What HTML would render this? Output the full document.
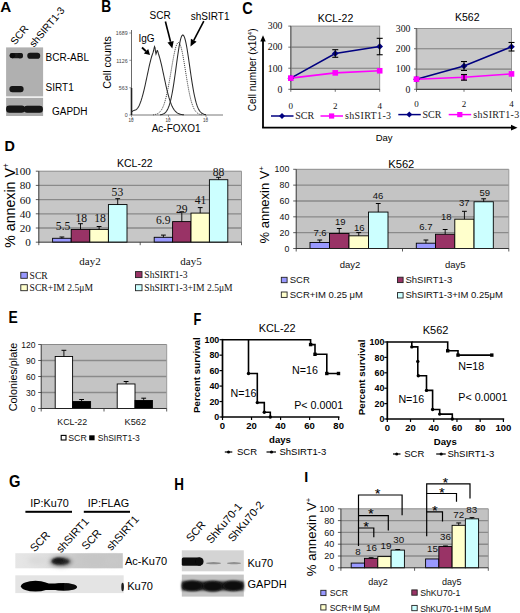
<!DOCTYPE html>
<html><head><meta charset="utf-8"><style>
html,body{margin:0;padding:0;background:#fff;}
svg{display:block;}
</style></head><body>
<svg width="520" height="613" viewBox="0 0 520 613">
<defs>
<filter id="b0" x="-50%" y="-50%" width="200%" height="200%"><feGaussianBlur stdDeviation="0.75"/></filter>
<filter id="b1" x="-50%" y="-50%" width="200%" height="200%"><feGaussianBlur stdDeviation="1.1"/></filter>
<filter id="b2" x="-50%" y="-50%" width="200%" height="200%"><feGaussianBlur stdDeviation="2"/></filter>
<linearGradient id="gG1" x1="0" y1="0" x2="1" y2="0"><stop offset="0" stop-color="#e6e6e6"/><stop offset="0.2" stop-color="#e2e2e2"/><stop offset="0.42" stop-color="#d8d8d8"/><stop offset="0.58" stop-color="#c8c8c8"/><stop offset="1" stop-color="#c6c6c6"/></linearGradient>
</defs>
<rect width="520" height="613" fill="#fff"/>
<text x="0.3" y="11.9" font-family='"Liberation Sans", sans-serif' font-size="15.2" font-weight="bold" text-anchor="start" fill="#000" >A</text>
<text transform="translate(15.2,45.6) rotate(-51)" font-family='"Liberation Sans", sans-serif' font-size="10.3" font-weight="normal" text-anchor="start" fill="#000">SCR</text>
<text transform="translate(34,47.8) rotate(-50)" font-family='"Liberation Sans", sans-serif' font-size="10.2" font-weight="normal" text-anchor="start" fill="#000">shSIRT1-3</text>
<rect x="6.1" y="47.4" width="37" height="49" fill="#b0b0b0" stroke="none" stroke-width="1" />
<rect x="6.1" y="97.8" width="37" height="18.2" fill="#ababab" stroke="none" stroke-width="1" />
<rect x="9.8" y="53.0" width="13" height="5.2" fill="#1a1a1a" stroke="none" stroke-width="1" rx="2.4" filter="url(#b0)"/>
<ellipse cx="12.4" cy="55.6" rx="2.8" ry="2.7" fill="#111" filter="url(#b0)"/>
<ellipse cx="20.4" cy="55.7" rx="2.6" ry="2.6" fill="#151515" filter="url(#b0)"/>
<rect x="27.3" y="52.8" width="12.9" height="5.9" fill="#141414" stroke="none" stroke-width="1" rx="2.8" filter="url(#b0)"/>
<rect x="9.4" y="86.0" width="14.2" height="6.3" fill="#141414" stroke="none" stroke-width="1" rx="3" filter="url(#b0)"/>
<rect x="6.1" y="105.6" width="18.7" height="7.2" fill="#121212" stroke="none" stroke-width="1" rx="3.2" filter="url(#b0)"/>
<rect x="23.8" y="105.7" width="19.1" height="7.0" fill="#121212" stroke="none" stroke-width="1" rx="3.2" filter="url(#b0)"/>
<text x="45.6" y="60.6" font-family='"Liberation Sans", sans-serif' font-size="10" font-weight="normal" text-anchor="start" fill="#000" >BCR-ABL</text>
<text x="45.6" y="90.6" font-family='"Liberation Sans", sans-serif' font-size="10" font-weight="normal" text-anchor="start" fill="#000" >SIRT1</text>
<text x="52" y="114.6" font-family='"Liberation Sans", sans-serif' font-size="10" font-weight="normal" text-anchor="start" fill="#000" >GAPDH</text>
<text x="101.3" y="11.6" font-family='"Liberation Sans", sans-serif' font-size="16.2" font-weight="bold" text-anchor="start" fill="#000" transform="translate(101.3,0) scale(0.85,1) translate(-101.3,0)">B</text>
<text x="149.5" y="18.8" font-family='"Liberation Sans", sans-serif' font-size="10" font-weight="normal" text-anchor="start" fill="#000" >SCR</text>
<text x="190.8" y="20" font-family='"Liberation Sans", sans-serif' font-size="10" font-weight="normal" text-anchor="start" fill="#000" >shSIRT1</text>
<text x="138.5" y="42" font-family='"Liberation Sans", sans-serif' font-size="10" font-weight="normal" text-anchor="start" fill="#000" >IgG</text>
<text transform="translate(111.3,62.5) rotate(-90)" font-family='"Liberation Sans", sans-serif' font-size="10.6" font-weight="normal" text-anchor="middle" fill="#000">Cell counts</text>
<line x1="131.5" y1="30" x2="131.5" y2="115" stroke="#444" stroke-width="0.8" />
<line x1="131.5" y1="115" x2="223" y2="115" stroke="#555" stroke-width="0.8" />
<line x1="129.3" y1="33" x2="131.5" y2="33" stroke="#555" stroke-width="0.6" />
<text x="127.6" y="35.2" font-family='"Liberation Sans", sans-serif' font-size="5.3" font-weight="normal" text-anchor="end" fill="#444" >1689</text>
<line x1="129.3" y1="60.3" x2="131.5" y2="60.3" stroke="#555" stroke-width="0.6" />
<text x="127.6" y="62.5" font-family='"Liberation Sans", sans-serif' font-size="5.3" font-weight="normal" text-anchor="end" fill="#444" >1126</text>
<line x1="129.3" y1="87.7" x2="131.5" y2="87.7" stroke="#555" stroke-width="0.6" />
<text x="127.6" y="89.9" font-family='"Liberation Sans", sans-serif' font-size="5.3" font-weight="normal" text-anchor="end" fill="#444" >563</text>
<line x1="129.3" y1="115" x2="131.5" y2="115" stroke="#555" stroke-width="0.6" />
<text x="127.6" y="117.2" font-family='"Liberation Sans", sans-serif' font-size="5.3" font-weight="normal" text-anchor="end" fill="#444" >0</text>
<line x1="131.5" y1="115" x2="131.5" y2="117" stroke="#555" stroke-width="0.6" />
<text x="128.5" y="122" font-family='"Liberation Sans", sans-serif' font-size="4.5" font-weight="normal" text-anchor="start" fill="#333" >10</text>
<line x1="168.5" y1="115" x2="168.5" y2="117" stroke="#555" stroke-width="0.6" />
<text x="165.5" y="122" font-family='"Liberation Sans", sans-serif' font-size="4.5" font-weight="normal" text-anchor="start" fill="#333" >10</text>
<line x1="206" y1="115" x2="206" y2="117" stroke="#555" stroke-width="0.6" />
<text x="203" y="122" font-family='"Liberation Sans", sans-serif' font-size="4.5" font-weight="normal" text-anchor="start" fill="#333" >10</text>
<text x="131.5" y="120" font-family='"Liberation Sans", sans-serif' font-size="3" font-weight="normal" text-anchor="start" fill="#333" >0</text>
<text x="168.5" y="120" font-family='"Liberation Sans", sans-serif' font-size="3" font-weight="normal" text-anchor="start" fill="#333" >1</text>
<text x="206" y="120" font-family='"Liberation Sans", sans-serif' font-size="3" font-weight="normal" text-anchor="start" fill="#333" >2</text>
<text x="151.7" y="131.8" font-family='"Liberation Sans", sans-serif' font-size="10" font-weight="normal" text-anchor="start" fill="#000" >Ac-FOXO1</text>
<line x1="131.5" y1="88" x2="131.5" y2="115" stroke="#222" stroke-width="1.6" />
<path d="M131.5,111.9 L132.0,111.5 L132.5,111.2 L133.0,110.9 L133.5,110.6 L134.0,110.4 L134.5,110.3 L135.0,110.1 L135.5,109.9 L136.0,109.7 L136.5,109.4 L137.0,108.9 L137.5,108.3 L138.0,107.6 L138.5,106.8 L139.0,105.9 L139.5,104.8 L140.0,103.6 L140.5,102.3 L141.0,100.9 L141.5,99.3 L142.0,97.7 L142.5,95.9 L143.0,94.1 L143.5,92.1 L144.0,90.1 L144.5,88.0 L145.0,85.8 L145.5,83.5 L146.0,81.2 L146.5,78.9 L147.0,76.5 L147.5,74.2 L148.0,71.8 L148.5,69.5 L149.0,67.2 L149.5,64.9 L150.0,62.8 L150.5,60.8 L151.0,58.9 L151.5,57.1 L152.0,55.5 L152.5,54.1 L153.0,52.7 L153.5,51.0 L154.0,48.5 L154.5,46.6 L155.0,47.7 L155.5,51.5 L156.0,54.1 L156.5,52.7 L157.0,50.6 L157.5,50.5 L158.0,52.1 L158.5,53.9 L159.0,55.5 L159.5,57.1 L160.0,58.9 L160.5,60.8 L161.0,62.8 L161.5,64.9 L162.0,67.2 L162.5,69.5 L163.0,71.8 L163.5,74.2 L164.0,76.5 L164.5,78.9 L165.0,81.2 L165.5,83.5 L166.0,85.8 L166.5,88.0 L167.0,90.1 L167.5,92.1 L168.0,94.1 L168.5,95.9 L169.0,97.7 L169.5,99.3 L170.0,100.9 L170.5,102.3 L171.0,103.6 L171.5,104.9 L172.0,106.0 L172.5,107.0 L173.0,108.0 L173.5,108.8 L174.0,109.6 L174.5,110.3 L175.0,110.9 L175.5,111.4 L176.0,111.9 L176.5,112.4 L177.0,112.7 L177.5,113.1 L178.0,113.4 L178.5,113.6 L179.0,113.8 L179.5,114.0 L180.0,114.2 L180.5,114.3 L181.0,114.4 L181.5,114.5 L182.0,114.6 L182.5,114.7 L183.0,114.7 L183.5,114.8 L184.0,114.8" stroke="#2a2a2a" stroke-width="1.05" fill="none" />
<path d="M153.0,114.8 L153.5,114.8 L154.0,114.7 L154.5,114.6 L155.0,114.5 L155.5,114.4 L156.0,114.3 L156.5,114.1 L157.0,113.9 L157.5,113.7 L158.0,113.4 L158.5,113.1 L159.0,112.7 L159.5,112.3 L160.0,111.8 L160.5,111.2 L161.0,110.6 L161.5,109.8 L162.0,109.0 L162.5,108.0 L163.0,106.9 L163.5,105.7 L164.0,104.4 L164.5,102.9 L165.0,101.3 L165.5,99.5 L166.0,97.6 L166.5,95.5 L167.0,93.3 L167.5,91.0 L168.0,88.5 L168.5,85.9 L169.0,83.2 L169.5,80.4 L170.0,77.5 L170.5,74.6 L171.0,71.6 L171.5,68.7 L172.0,65.7 L172.5,62.8 L173.0,60.0 L173.5,57.3 L174.0,54.7 L174.5,52.4 L175.0,50.2 L175.5,48.2 L176.0,46.5 L176.5,45.1 L177.0,44.0 L177.5,43.2 L178.0,42.7 L178.5,42.5 L179.0,42.7 L179.5,43.2 L180.0,44.1 L180.5,45.4 L181.0,47.0 L181.5,48.9 L182.0,51.0 L182.5,53.4 L183.0,56.0 L183.5,58.8 L184.0,61.8 L184.5,64.8 L185.0,67.9 L185.5,71.0 L186.0,74.2 L186.5,77.3 L187.0,80.3 L187.5,83.3 L188.0,86.1 L188.5,88.9 L189.0,91.5 L189.5,93.9 L190.0,96.2 L190.5,98.3 L191.0,100.3 L191.5,102.1 L192.0,103.7 L192.5,105.2 L193.0,106.5 L193.5,107.7 L194.0,108.8 L194.5,109.7 L195.0,110.5 L195.5,111.2 L196.0,111.8 L196.5,112.3 L197.0,112.8 L197.5,113.2 L198.0,113.5 L198.5,113.8 L199.0,114.0 L199.5,114.2 L200.0,114.4 L200.5,114.5 L201.0,114.6 L201.5,114.7 L202.0,114.7" stroke="#444" stroke-width="1.0" fill="none" stroke-dasharray="1.1,0.9"/>
<path d="M160.0,114.8 L160.5,114.7 L161.0,114.7 L161.5,114.6 L162.0,114.4 L162.5,114.3 L163.0,114.1 L163.5,113.9 L164.0,113.6 L164.5,113.3 L165.0,112.9 L165.5,112.4 L166.0,111.9 L166.5,111.2 L167.0,110.4 L167.5,109.6 L168.0,108.5 L168.5,107.3 L169.0,106.0 L169.5,104.5 L170.0,102.8 L170.5,100.9 L171.0,98.8 L171.5,96.5 L172.0,94.0 L172.5,91.3 L173.0,88.4 L173.5,85.4 L174.0,82.1 L174.5,78.7 L175.0,75.2 L175.5,71.6 L176.0,67.9 L176.5,64.3 L177.0,60.6 L177.5,57.0 L178.0,53.6 L178.5,50.3 L179.0,47.2 L179.5,44.4 L180.0,41.9 L180.5,39.7 L181.0,37.9 L181.5,36.5 L182.0,35.6 L182.5,35.1 L183.0,35.0 L183.5,35.4 L184.0,36.2 L184.5,37.4 L185.0,39.0 L185.5,40.9 L186.0,43.2 L186.5,45.7 L187.0,48.5 L187.5,51.6 L188.0,54.8 L188.5,58.1 L189.0,61.6 L189.5,65.1 L190.0,68.6 L190.5,72.1 L191.0,75.5 L191.5,78.9 L192.0,82.1 L192.5,85.2 L193.0,88.2 L193.5,91.0 L194.0,93.6 L194.5,96.0 L195.0,98.2 L195.5,100.3 L196.0,102.2 L196.5,103.9 L197.0,105.4 L197.5,106.7 L198.0,107.9 L198.5,109.0 L199.0,109.9 L199.5,110.7 L200.0,111.4 L200.5,112.0 L201.0,112.5 L201.5,113.0 L202.0,113.3 L202.5,113.6 L203.0,113.9 L203.5,114.1 L204.0,114.3 L204.5,114.4 L205.0,114.5 L205.5,114.6 L206.0,114.7" stroke="#2a2a2a" stroke-width="1.05" fill="none" />
<line x1="142" y1="47.5" x2="145.98754537722954" y2="51.23832379115269" stroke="#000" stroke-width="1.8" />
<polygon points="150.0,55.0 143.8,53.6 148.2,48.9" fill="#000"/>
<line x1="165.4" y1="21.5" x2="170.5668121274237" y2="41.71796049861442" stroke="#000" stroke-width="1.6" />
<polygon points="172.3,48.5 167.5,42.5 173.7,40.9" fill="#000"/>
<line x1="203.8" y1="21.2" x2="193.7571965678709" y2="40.30397946111779" stroke="#000" stroke-width="1.6" />
<polygon points="190.5,46.5 190.9,38.8 196.6,41.8" fill="#000"/>
<text x="242.2" y="13.6" font-family='"Liberation Sans", sans-serif' font-size="15.8" font-weight="bold" text-anchor="start" fill="#000" transform="translate(242.2,0) scale(0.92,1) translate(-242.2,0)">C</text>
<rect x="290.8" y="26.1" width="88.89999999999998" height="63.199999999999996" fill="#c9c9c9" stroke="#8a8a8a" stroke-width="0.9" />
<line x1="290.8" y1="68.23333333333333" x2="379.7" y2="68.23333333333333" stroke="#7e7e7e" stroke-width="1.2" />
<line x1="290.8" y1="47.16666666666667" x2="379.7" y2="47.16666666666667" stroke="#7e7e7e" stroke-width="1.2" />
<line x1="290.8" y1="89.3" x2="379.7" y2="89.3" stroke="#222" stroke-width="0.9" />
<line x1="290.8" y1="26.1" x2="290.8" y2="89.3" stroke="#777" stroke-width="1.6" />
<line x1="288.3" y1="89.3" x2="290.8" y2="89.3" stroke="#333" stroke-width="0.7" />
<text x="282.5" y="92.6" font-family='"Liberation Serif", serif' font-size="9.8" font-weight="normal" text-anchor="end" fill="#111" >0</text>
<line x1="288.3" y1="68.23333333333333" x2="290.8" y2="68.23333333333333" stroke="#333" stroke-width="0.7" />
<text x="282.5" y="71.53333333333333" font-family='"Liberation Serif", serif' font-size="9.8" font-weight="normal" text-anchor="end" fill="#111" >100</text>
<line x1="288.3" y1="47.16666666666667" x2="290.8" y2="47.16666666666667" stroke="#333" stroke-width="0.7" />
<text x="282.5" y="50.46666666666667" font-family='"Liberation Serif", serif' font-size="9.8" font-weight="normal" text-anchor="end" fill="#111" >200</text>
<line x1="288.3" y1="26.1" x2="290.8" y2="26.1" stroke="#333" stroke-width="0.7" />
<text x="282.5" y="29.400000000000002" font-family='"Liberation Serif", serif' font-size="9.8" font-weight="normal" text-anchor="end" fill="#111" >300</text>
<line x1="290.8" y1="89.3" x2="290.8" y2="91.8" stroke="#333" stroke-width="0.7" />
<text x="290.8" y="108.5" font-family='"Liberation Serif", serif' font-size="9" font-weight="normal" text-anchor="middle" fill="#111" >0</text>
<line x1="335.25" y1="89.3" x2="335.25" y2="91.8" stroke="#333" stroke-width="0.7" />
<text x="335.25" y="108.5" font-family='"Liberation Serif", serif' font-size="9" font-weight="normal" text-anchor="middle" fill="#111" >2</text>
<line x1="379.7" y1="89.3" x2="379.7" y2="91.8" stroke="#333" stroke-width="0.7" />
<text x="379.7" y="108.5" font-family='"Liberation Serif", serif' font-size="9" font-weight="normal" text-anchor="middle" fill="#111" >4</text>
<text x="335.5" y="22" font-family='"Liberation Sans", sans-serif' font-size="10.5" font-weight="normal" text-anchor="middle" fill="#000" >KCL-22</text>
<path d="M290.8,78.1 L335.2,53.5 L379.7,46.5" stroke="#000080" stroke-width="1.6" fill="none" />
<path d="M290.8,78.1 L335.2,72.9 L379.7,70.8" stroke="#ff00ff" stroke-width="1.6" fill="none" />
<polygon points="290.8,74.83466666666666 294.1,78.13466666666666 290.8,81.43466666666666 287.5,78.13466666666666" fill="#000080"/>
<polygon points="335.25,50.186666666666675 338.55,53.48666666666667 335.25,56.78666666666667 331.95,53.48666666666667" fill="#000080"/>
<polygon points="379.7,43.23466666666667 383.0,46.534666666666666 379.7,49.834666666666664 376.4,46.534666666666666" fill="#000080"/>
<rect x="288.0" y="75.33466666666666" width="5.6" height="5.6" fill="#ff00ff" stroke="none" stroke-width="1" />
<rect x="332.45" y="70.068" width="5.6" height="5.6" fill="#ff00ff" stroke="none" stroke-width="1" />
<rect x="376.9" y="67.96133333333334" width="5.6" height="5.6" fill="#ff00ff" stroke="none" stroke-width="1" />
<line x1="335.25" y1="49.69466666666667" x2="335.25" y2="57.27866666666667" stroke="#000" stroke-width="1" />
<line x1="332.25" y1="49.69466666666667" x2="338.25" y2="49.69466666666667" stroke="#000" stroke-width="1.1" />
<line x1="332.25" y1="57.27866666666667" x2="338.25" y2="57.27866666666667" stroke="#000" stroke-width="1.1" />
<line x1="379.7" y1="38.318666666666665" x2="379.7" y2="54.75066666666667" stroke="#000" stroke-width="1" />
<line x1="376.7" y1="38.318666666666665" x2="382.7" y2="38.318666666666665" stroke="#000" stroke-width="1.1" />
<line x1="376.7" y1="54.75066666666667" x2="382.7" y2="54.75066666666667" stroke="#000" stroke-width="1.1" />
<rect x="416.5" y="28.5" width="95.0" height="60.8" fill="#c9c9c9" stroke="#8a8a8a" stroke-width="0.9" />
<line x1="416.5" y1="69.03333333333333" x2="511.5" y2="69.03333333333333" stroke="#7e7e7e" stroke-width="1.2" />
<line x1="416.5" y1="48.766666666666666" x2="511.5" y2="48.766666666666666" stroke="#7e7e7e" stroke-width="1.2" />
<line x1="416.5" y1="89.3" x2="511.5" y2="89.3" stroke="#222" stroke-width="0.9" />
<line x1="416.5" y1="28.5" x2="416.5" y2="89.3" stroke="#777" stroke-width="1.6" />
<line x1="414.0" y1="89.3" x2="416.5" y2="89.3" stroke="#333" stroke-width="0.7" />
<text x="410.5" y="92.6" font-family='"Liberation Serif", serif' font-size="9.8" font-weight="normal" text-anchor="end" fill="#111" >0</text>
<line x1="414.0" y1="69.03333333333333" x2="416.5" y2="69.03333333333333" stroke="#333" stroke-width="0.7" />
<text x="410.5" y="72.33333333333333" font-family='"Liberation Serif", serif' font-size="9.8" font-weight="normal" text-anchor="end" fill="#111" >100</text>
<line x1="414.0" y1="48.766666666666666" x2="416.5" y2="48.766666666666666" stroke="#333" stroke-width="0.7" />
<text x="410.5" y="52.06666666666666" font-family='"Liberation Serif", serif' font-size="9.8" font-weight="normal" text-anchor="end" fill="#111" >200</text>
<line x1="414.0" y1="28.5" x2="416.5" y2="28.5" stroke="#333" stroke-width="0.7" />
<text x="410.5" y="31.8" font-family='"Liberation Serif", serif' font-size="9.8" font-weight="normal" text-anchor="end" fill="#111" >300</text>
<line x1="416.5" y1="89.3" x2="416.5" y2="91.8" stroke="#333" stroke-width="0.7" />
<text x="416.5" y="106.8" font-family='"Liberation Serif", serif' font-size="9" font-weight="normal" text-anchor="middle" fill="#111" >0</text>
<line x1="464.0" y1="89.3" x2="464.0" y2="91.8" stroke="#333" stroke-width="0.7" />
<text x="464.0" y="106.8" font-family='"Liberation Serif", serif' font-size="9" font-weight="normal" text-anchor="middle" fill="#111" >2</text>
<line x1="511.5" y1="89.3" x2="511.5" y2="91.8" stroke="#333" stroke-width="0.7" />
<text x="511.5" y="106.8" font-family='"Liberation Serif", serif' font-size="9" font-weight="normal" text-anchor="middle" fill="#111" >4</text>
<text x="467.3" y="21" font-family='"Liberation Sans", sans-serif' font-size="10.5" font-weight="normal" text-anchor="middle" fill="#000" >K562</text>
<path d="M416.5,79.2 L464.0,66.0 L511.5,46.7" stroke="#000080" stroke-width="1.6" fill="none" />
<path d="M416.5,79.2 L464.0,77.3 L511.5,73.9" stroke="#ff00ff" stroke-width="1.6" fill="none" />
<polygon points="416.5,75.86666666666666 419.8,79.16666666666666 416.5,82.46666666666665 413.2,79.16666666666666" fill="#000080"/>
<polygon points="464.0,62.69333333333334 467.3,65.99333333333334 464.0,69.29333333333334 460.7,65.99333333333334" fill="#000080"/>
<polygon points="511.5,43.44 514.8,46.739999999999995 511.5,50.03999999999999 508.2,46.739999999999995" fill="#000080"/>
<rect x="413.7" y="76.36666666666666" width="5.6" height="5.6" fill="#ff00ff" stroke="none" stroke-width="1" />
<rect x="461.2" y="74.54266666666666" width="5.6" height="5.6" fill="#ff00ff" stroke="none" stroke-width="1" />
<rect x="508.7" y="71.09733333333334" width="5.6" height="5.6" fill="#ff00ff" stroke="none" stroke-width="1" />
<line x1="464.0" y1="61.53466666666667" x2="464.0" y2="70.45200000000001" stroke="#000" stroke-width="1" />
<line x1="461.0" y1="61.53466666666667" x2="467.0" y2="61.53466666666667" stroke="#000" stroke-width="1.1" />
<line x1="461.0" y1="70.45200000000001" x2="467.0" y2="70.45200000000001" stroke="#000" stroke-width="1.1" />
<line x1="511.5" y1="42.483999999999995" x2="511.5" y2="50.995999999999995" stroke="#000" stroke-width="1" />
<line x1="508.5" y1="42.483999999999995" x2="514.5" y2="42.483999999999995" stroke="#000" stroke-width="1.1" />
<line x1="508.5" y1="50.995999999999995" x2="514.5" y2="50.995999999999995" stroke="#000" stroke-width="1.1" />
<line x1="464.0" y1="74.50533333333333" x2="464.0" y2="80.17999999999999" stroke="#000" stroke-width="1" />
<line x1="461.0" y1="74.50533333333333" x2="467.0" y2="74.50533333333333" stroke="#000" stroke-width="1.1" />
<line x1="461.0" y1="80.17999999999999" x2="467.0" y2="80.17999999999999" stroke="#000" stroke-width="1.1" />
<line x1="271" y1="116" x2="293.5" y2="116" stroke="#000080" stroke-width="1.5" />
<polygon points="282,113 285,116 282,119 279,116" fill="#000080"/>
<text x="295.2" y="119.3" font-family='"Liberation Serif", serif' font-size="10" font-weight="normal" text-anchor="start" fill="#222" >SCR</text>
<line x1="320.5" y1="116" x2="343.0" y2="116" stroke="#ff00ff" stroke-width="1.5" />
<rect x="329.0" y="113.4" width="5.2" height="5.2" fill="#ff00ff" stroke="none" stroke-width="1" />
<text x="345.0" y="119.3" font-family='"Liberation Serif", serif' font-size="10" font-weight="normal" text-anchor="start" fill="#222" letter-spacing="0.35">shSIRT1-3</text>
<line x1="398.3" y1="114.6" x2="420.8" y2="114.6" stroke="#000080" stroke-width="1.5" />
<polygon points="409.3,111.6 412.3,114.6 409.3,117.6 406.3,114.6" fill="#000080"/>
<text x="422.5" y="117.89999999999999" font-family='"Liberation Serif", serif' font-size="10" font-weight="normal" text-anchor="start" fill="#222" >SCR</text>
<line x1="448.7" y1="114.6" x2="471.2" y2="114.6" stroke="#ff00ff" stroke-width="1.5" />
<rect x="457.2" y="112.0" width="5.2" height="5.2" fill="#ff00ff" stroke="none" stroke-width="1" />
<text x="473.2" y="117.89999999999999" font-family='"Liberation Serif", serif' font-size="10" font-weight="normal" text-anchor="start" fill="#222" letter-spacing="0.35">shSIRT1-3</text>
<line x1="263" y1="40" x2="263" y2="127.7" stroke="#000" stroke-width="1.8" />
<polygon points="263,35.3 260.3,41.5 265.7,41.5" fill="#000"/>
<line x1="262.1" y1="127.7" x2="512" y2="127.7" stroke="#000" stroke-width="1.8" />
<polygon points="517.5,127.7 511,124.8 511,130.6" fill="#000"/>
<text transform="translate(256,69.9) rotate(-90)" font-family='"Liberation Sans", sans-serif' font-size="10" font-weight="normal" text-anchor="middle" fill="#000">Cell number (x10<tspan font-size="6" dy="-4">4</tspan><tspan dy="4">)</tspan></text>
<text x="375.7" y="140.8" font-family='"Liberation Sans", sans-serif' font-size="9.5" font-weight="normal" text-anchor="start" fill="#000" >Day</text>
<text x="4.6" y="150.7" font-family='"Liberation Sans", sans-serif' font-size="15.5" font-weight="bold" text-anchor="start" fill="#000" transform="translate(4.6,0) scale(0.93,1) translate(-4.6,0)">D</text>
<rect x="38.8" y="171.2" width="202.7" height="71.0" fill="#c7c7c7" stroke="none" stroke-width="1" />
<line x1="38.8" y1="228.0" x2="241.5" y2="228.0" stroke="#8a8a8a" stroke-width="1.35" />
<line x1="38.8" y1="213.79999999999998" x2="241.5" y2="213.79999999999998" stroke="#8a8a8a" stroke-width="1.35" />
<line x1="38.8" y1="199.6" x2="241.5" y2="199.6" stroke="#8a8a8a" stroke-width="1.35" />
<line x1="38.8" y1="185.39999999999998" x2="241.5" y2="185.39999999999998" stroke="#8a8a8a" stroke-width="1.35" />
<line x1="38.8" y1="171.2" x2="241.5" y2="171.2" stroke="#8a8a8a" stroke-width="1" />
<line x1="241.5" y1="171.2" x2="241.5" y2="242.2" stroke="#9a9a9a" stroke-width="1" />
<rect x="52.6" y="238.295" width="18.6" height="3.905" fill="#9999ff" stroke="#000" stroke-width="0.9" />
<rect x="71.2" y="229.42" width="18.6" height="12.78" fill="#993366" stroke="#000" stroke-width="0.9" />
<rect x="89.80000000000001" y="229.42" width="18.6" height="12.78" fill="#ffffcc" stroke="#000" stroke-width="0.9" />
<rect x="108.4" y="204.57" width="18.6" height="37.629999999999995" fill="#ccffff" stroke="#000" stroke-width="0.9" />
<rect x="154.2" y="237.301" width="18.4" height="4.899" fill="#9999ff" stroke="#000" stroke-width="0.9" />
<rect x="172.6" y="221.60999999999999" width="18.4" height="20.59" fill="#993366" stroke="#000" stroke-width="0.9" />
<rect x="191.0" y="213.08999999999997" width="18.4" height="29.11" fill="#ffffcc" stroke="#000" stroke-width="0.9" />
<rect x="209.39999999999998" y="179.72" width="18.4" height="62.48" fill="#ccffff" stroke="#000" stroke-width="0.9" />
<line x1="61.900000000000006" y1="238.295" x2="61.900000000000006" y2="237" stroke="#000" stroke-width="0.9" />
<line x1="59.50000000000001" y1="237" x2="64.30000000000001" y2="237" stroke="#000" stroke-width="1" />
<line x1="80.5" y1="229.42" x2="80.5" y2="223.7" stroke="#000" stroke-width="0.9" />
<line x1="78.1" y1="223.7" x2="82.9" y2="223.7" stroke="#000" stroke-width="1" />
<line x1="99.1" y1="229.42" x2="99.1" y2="226.5" stroke="#000" stroke-width="0.9" />
<line x1="96.69999999999999" y1="226.5" x2="101.5" y2="226.5" stroke="#000" stroke-width="1" />
<line x1="117.70000000000002" y1="204.57" x2="117.70000000000002" y2="198.7" stroke="#000" stroke-width="0.9" />
<line x1="115.30000000000001" y1="198.7" x2="120.10000000000002" y2="198.7" stroke="#000" stroke-width="1" />
<line x1="163.39999999999998" y1="237.301" x2="163.39999999999998" y2="235.1" stroke="#000" stroke-width="0.9" />
<line x1="160.99999999999997" y1="235.1" x2="165.79999999999998" y2="235.1" stroke="#000" stroke-width="1" />
<line x1="181.79999999999998" y1="221.60999999999999" x2="181.79999999999998" y2="211.8" stroke="#000" stroke-width="0.9" />
<line x1="179.39999999999998" y1="211.8" x2="184.2" y2="211.8" stroke="#000" stroke-width="1" />
<line x1="200.2" y1="213.08999999999997" x2="200.2" y2="207.6" stroke="#000" stroke-width="0.9" />
<line x1="197.79999999999998" y1="207.6" x2="202.6" y2="207.6" stroke="#000" stroke-width="1" />
<line x1="218.59999999999997" y1="179.72" x2="218.59999999999997" y2="177.3" stroke="#000" stroke-width="0.9" />
<line x1="216.19999999999996" y1="177.3" x2="220.99999999999997" y2="177.3" stroke="#000" stroke-width="1" />
<line x1="38.8" y1="171.2" x2="38.8" y2="242.7" stroke="#222" stroke-width="0.9" />
<line x1="38.8" y1="242.2" x2="241.5" y2="242.2" stroke="#222" stroke-width="0.9" />
<line x1="38.8" y1="242.2" x2="38.8" y2="245.2" stroke="#333" stroke-width="0.8" />
<line x1="140.2" y1="242.2" x2="140.2" y2="245.2" stroke="#333" stroke-width="0.8" />
<line x1="241.5" y1="242.2" x2="241.5" y2="245.2" stroke="#333" stroke-width="0.8" />
<line x1="35.8" y1="242.2" x2="38.8" y2="242.2" stroke="#333" stroke-width="0.8" />
<text x="30.9" y="246.232" font-family='"Liberation Serif", serif' font-size="11.2" font-weight="normal" text-anchor="end" fill="#111" >0</text>
<line x1="35.8" y1="228.0" x2="38.8" y2="228.0" stroke="#333" stroke-width="0.8" />
<text x="30.9" y="232.032" font-family='"Liberation Serif", serif' font-size="11.2" font-weight="normal" text-anchor="end" fill="#111" >20</text>
<line x1="35.8" y1="213.79999999999998" x2="38.8" y2="213.79999999999998" stroke="#333" stroke-width="0.8" />
<text x="30.9" y="217.832" font-family='"Liberation Serif", serif' font-size="11.2" font-weight="normal" text-anchor="end" fill="#111" >40</text>
<line x1="35.8" y1="199.6" x2="38.8" y2="199.6" stroke="#333" stroke-width="0.8" />
<text x="30.9" y="203.632" font-family='"Liberation Serif", serif' font-size="11.2" font-weight="normal" text-anchor="end" fill="#111" >60</text>
<line x1="35.8" y1="185.39999999999998" x2="38.8" y2="185.39999999999998" stroke="#333" stroke-width="0.8" />
<text x="30.9" y="189.432" font-family='"Liberation Serif", serif' font-size="11.2" font-weight="normal" text-anchor="end" fill="#111" >80</text>
<line x1="35.8" y1="171.2" x2="38.8" y2="171.2" stroke="#333" stroke-width="0.8" />
<text x="30.9" y="175.232" font-family='"Liberation Serif", serif' font-size="11.2" font-weight="normal" text-anchor="end" fill="#111" >100</text>
<text x="63.1" y="230.4" font-family='"Liberation Serif", serif' font-size="11.6" font-weight="normal" text-anchor="middle" fill="#111" >5.5</text>
<text x="81.2" y="221.7" font-family='"Liberation Serif", serif' font-size="11.6" font-weight="normal" text-anchor="middle" fill="#111" >18</text>
<text x="100.1" y="221.7" font-family='"Liberation Serif", serif' font-size="11.6" font-weight="normal" text-anchor="middle" fill="#111" >18</text>
<text x="117.4" y="195.8" font-family='"Liberation Serif", serif' font-size="11.6" font-weight="normal" text-anchor="middle" fill="#111" >53</text>
<text x="163.3" y="223.5" font-family='"Liberation Serif", serif' font-size="11.6" font-weight="normal" text-anchor="middle" fill="#111" >6.9</text>
<text x="181.7" y="213.3" font-family='"Liberation Serif", serif' font-size="11.6" font-weight="normal" text-anchor="middle" fill="#111" >29</text>
<text x="200.5" y="204.4" font-family='"Liberation Serif", serif' font-size="11.6" font-weight="normal" text-anchor="middle" fill="#111" >41</text>
<text x="218.6" y="175.9" font-family='"Liberation Serif", serif' font-size="11.6" font-weight="normal" text-anchor="middle" fill="#111" >88</text>
<text x="134.8" y="166.5" font-family='"Liberation Sans", sans-serif' font-size="10.5" font-weight="normal" text-anchor="middle" fill="#000" >KCL-22</text>
<text x="90" y="265" font-family='"Liberation Serif", serif' font-size="11" font-weight="normal" text-anchor="middle" fill="#111" >day2</text>
<text x="191" y="265" font-family='"Liberation Serif", serif' font-size="11" font-weight="normal" text-anchor="middle" fill="#111" >day5</text>
<text transform="translate(14.9,205.5) rotate(-90)" font-family='"Liberation Sans", sans-serif' font-size="14.2" font-weight="normal" text-anchor="middle" fill="#000">% annexin V<tspan font-size="8.5" dy="-5.5">+</tspan></text>
<rect x="20.8" y="272.3" width="6.5" height="6" fill="#9999ff" stroke="#222" stroke-width="0.9" />
<text x="29.6" y="278.5" font-family='"Liberation Serif", serif' font-size="9.6" font-weight="normal" text-anchor="start" fill="#111" >SCR</text>
<rect x="20.8" y="284.7" width="6.5" height="6" fill="#ffffcc" stroke="#222" stroke-width="0.9" />
<text x="29.6" y="290.8" font-family='"Liberation Serif", serif' font-size="9.6" font-weight="normal" text-anchor="start" fill="#111" >SCR+IM 2.5μM</text>
<rect x="135.5" y="271.6" width="6.5" height="6" fill="#993366" stroke="#222" stroke-width="0.9" />
<text x="144.3" y="278" font-family='"Liberation Serif", serif' font-size="9.6" font-weight="normal" text-anchor="start" fill="#111" >ShSIRT1-3</text>
<rect x="135.5" y="284.7" width="6.5" height="6" fill="#ccffff" stroke="#222" stroke-width="0.9" />
<text x="144.3" y="290.8" font-family='"Liberation Serif", serif' font-size="9.6" font-weight="normal" text-anchor="start" fill="#111" >ShSIRT1-3+IM 2.5μM</text>
<rect x="296.2" y="169.3" width="212.60000000000002" height="79.19999999999999" fill="#c4c4c4" stroke="none" stroke-width="1" />
<line x1="296.2" y1="232.66" x2="508.8" y2="232.66" stroke="#8a8a8a" stroke-width="1.35" />
<line x1="296.2" y1="216.82" x2="508.8" y2="216.82" stroke="#8a8a8a" stroke-width="1.35" />
<line x1="296.2" y1="200.98000000000002" x2="508.8" y2="200.98000000000002" stroke="#8a8a8a" stroke-width="1.35" />
<line x1="296.2" y1="185.14000000000001" x2="508.8" y2="185.14000000000001" stroke="#8a8a8a" stroke-width="1.35" />
<line x1="296.2" y1="169.3" x2="508.8" y2="169.3" stroke="#8a8a8a" stroke-width="1" />
<line x1="508.8" y1="169.3" x2="508.8" y2="248.5" stroke="#9a9a9a" stroke-width="1" />
<rect x="310.0" y="242.4808" width="19.5" height="6.019199999999999" fill="#9999ff" stroke="#000" stroke-width="0.9" />
<rect x="329.5" y="233.452" width="19.5" height="15.047999999999998" fill="#993366" stroke="#000" stroke-width="0.9" />
<rect x="349.0" y="235.828" width="19.5" height="12.671999999999999" fill="#ffffcc" stroke="#000" stroke-width="0.9" />
<rect x="368.5" y="212.068" width="19.5" height="36.431999999999995" fill="#ccffff" stroke="#000" stroke-width="0.9" />
<rect x="416.3" y="243.1936" width="19.25" height="5.3064" fill="#9999ff" stroke="#000" stroke-width="0.9" />
<rect x="435.55" y="234.244" width="19.25" height="14.255999999999998" fill="#993366" stroke="#000" stroke-width="0.9" />
<rect x="454.8" y="219.196" width="19.25" height="29.304" fill="#ffffcc" stroke="#000" stroke-width="0.9" />
<rect x="474.05" y="201.772" width="19.25" height="46.727999999999994" fill="#ccffff" stroke="#000" stroke-width="0.9" />
<line x1="319.75" y1="242.4808" x2="319.75" y2="240" stroke="#000" stroke-width="0.9" />
<line x1="317.35" y1="240" x2="322.15" y2="240" stroke="#000" stroke-width="1" />
<line x1="339.25" y1="233.452" x2="339.25" y2="228.5" stroke="#000" stroke-width="0.9" />
<line x1="336.85" y1="228.5" x2="341.65" y2="228.5" stroke="#000" stroke-width="1" />
<line x1="358.75" y1="235.828" x2="358.75" y2="232.6" stroke="#000" stroke-width="0.9" />
<line x1="356.35" y1="232.6" x2="361.15" y2="232.6" stroke="#000" stroke-width="1" />
<line x1="378.25" y1="212.068" x2="378.25" y2="203.5" stroke="#000" stroke-width="0.9" />
<line x1="375.85" y1="203.5" x2="380.65" y2="203.5" stroke="#000" stroke-width="1" />
<line x1="425.925" y1="243.1936" x2="425.925" y2="240" stroke="#000" stroke-width="0.9" />
<line x1="423.52500000000003" y1="240" x2="428.325" y2="240" stroke="#000" stroke-width="1" />
<line x1="445.175" y1="234.244" x2="445.175" y2="229.5" stroke="#000" stroke-width="0.9" />
<line x1="442.77500000000003" y1="229.5" x2="447.575" y2="229.5" stroke="#000" stroke-width="1" />
<line x1="464.425" y1="219.196" x2="464.425" y2="211.3" stroke="#000" stroke-width="0.9" />
<line x1="462.02500000000003" y1="211.3" x2="466.825" y2="211.3" stroke="#000" stroke-width="1" />
<line x1="483.675" y1="201.772" x2="483.675" y2="198.8" stroke="#000" stroke-width="0.9" />
<line x1="481.27500000000003" y1="198.8" x2="486.075" y2="198.8" stroke="#000" stroke-width="1" />
<line x1="296.2" y1="169.3" x2="296.2" y2="249.0" stroke="#222" stroke-width="0.9" />
<line x1="296.2" y1="248.5" x2="508.8" y2="248.5" stroke="#222" stroke-width="0.9" />
<line x1="296.2" y1="248.5" x2="296.2" y2="251.5" stroke="#333" stroke-width="0.8" />
<line x1="402.5" y1="248.5" x2="402.5" y2="251.5" stroke="#333" stroke-width="0.8" />
<line x1="508.8" y1="248.5" x2="508.8" y2="251.5" stroke="#333" stroke-width="0.8" />
<line x1="293.2" y1="248.5" x2="296.2" y2="248.5" stroke="#333" stroke-width="0.8" />
<text x="289.3" y="251.668" font-family='"Liberation Sans", sans-serif' font-size="8.8" font-weight="normal" text-anchor="end" fill="#111" >0</text>
<line x1="293.2" y1="232.66" x2="296.2" y2="232.66" stroke="#333" stroke-width="0.8" />
<text x="289.3" y="235.828" font-family='"Liberation Sans", sans-serif' font-size="8.8" font-weight="normal" text-anchor="end" fill="#111" >20</text>
<line x1="293.2" y1="216.82" x2="296.2" y2="216.82" stroke="#333" stroke-width="0.8" />
<text x="289.3" y="219.988" font-family='"Liberation Sans", sans-serif' font-size="8.8" font-weight="normal" text-anchor="end" fill="#111" >40</text>
<line x1="293.2" y1="200.98000000000002" x2="296.2" y2="200.98000000000002" stroke="#333" stroke-width="0.8" />
<text x="289.3" y="204.14800000000002" font-family='"Liberation Sans", sans-serif' font-size="8.8" font-weight="normal" text-anchor="end" fill="#111" >60</text>
<line x1="293.2" y1="185.14000000000001" x2="296.2" y2="185.14000000000001" stroke="#333" stroke-width="0.8" />
<text x="289.3" y="188.30800000000002" font-family='"Liberation Sans", sans-serif' font-size="8.8" font-weight="normal" text-anchor="end" fill="#111" >80</text>
<line x1="293.2" y1="169.3" x2="296.2" y2="169.3" stroke="#333" stroke-width="0.8" />
<text x="289.3" y="172.46800000000002" font-family='"Liberation Sans", sans-serif' font-size="8.8" font-weight="normal" text-anchor="end" fill="#111" >100</text>
<text x="320" y="236" font-family='"Liberation Sans", sans-serif' font-size="9.5" font-weight="normal" text-anchor="middle" fill="#111" >7.6</text>
<text x="340.3" y="225" font-family='"Liberation Sans", sans-serif' font-size="9.5" font-weight="normal" text-anchor="middle" fill="#111" >19</text>
<text x="359.3" y="230.5" font-family='"Liberation Sans", sans-serif' font-size="9.5" font-weight="normal" text-anchor="middle" fill="#111" >16</text>
<text x="378.1" y="199.3" font-family='"Liberation Sans", sans-serif' font-size="9.5" font-weight="normal" text-anchor="middle" fill="#111" >46</text>
<text x="425.9" y="229.5" font-family='"Liberation Sans", sans-serif' font-size="9.5" font-weight="normal" text-anchor="middle" fill="#111" >6.7</text>
<text x="446.2" y="220" font-family='"Liberation Sans", sans-serif' font-size="9.5" font-weight="normal" text-anchor="middle" fill="#111" >18</text>
<text x="464.2" y="205.8" font-family='"Liberation Sans", sans-serif' font-size="9.5" font-weight="normal" text-anchor="middle" fill="#111" >37</text>
<text x="484.7" y="196.3" font-family='"Liberation Sans", sans-serif' font-size="9.5" font-weight="normal" text-anchor="middle" fill="#111" >59</text>
<text x="401.3" y="167.9" font-family='"Liberation Sans", sans-serif' font-size="11.2" font-weight="normal" text-anchor="middle" fill="#000" >K562</text>
<text x="350" y="267.6" font-family='"Liberation Sans", sans-serif' font-size="9.5" font-weight="normal" text-anchor="middle" fill="#111" >day2</text>
<text x="455.3" y="267.6" font-family='"Liberation Sans", sans-serif' font-size="9.5" font-weight="normal" text-anchor="middle" fill="#111" >day5</text>
<text transform="translate(269.4,204.8) rotate(-90)" font-family='"Liberation Sans", sans-serif' font-size="13" font-weight="normal" text-anchor="middle" fill="#000">% annexin V<tspan font-size="7.5" dy="-5">+</tspan></text>
<rect x="281.3" y="277.3" width="5.8" height="5.4" fill="#9999ff" stroke="#222" stroke-width="0.9" />
<text x="289.7" y="283.2" font-family='"Liberation Sans", sans-serif' font-size="9.5" font-weight="normal" text-anchor="start" fill="#111" >SCR</text>
<rect x="281.3" y="292" width="5.8" height="5.4" fill="#ffffcc" stroke="#222" stroke-width="0.9" />
<text x="289.7" y="297.8" font-family='"Liberation Sans", sans-serif' font-size="9.5" font-weight="normal" text-anchor="start" fill="#111" >SCR+IM 0.25 μM</text>
<rect x="397.5" y="277.2" width="5.6" height="5.4" fill="#993366" stroke="#222" stroke-width="0.9" />
<text x="405.5" y="283.2" font-family='"Liberation Sans", sans-serif' font-size="9.5" font-weight="normal" text-anchor="start" fill="#111" >ShSIRT1-3</text>
<rect x="397.5" y="292.6" width="5.6" height="5.4" fill="#ccffff" stroke="#222" stroke-width="0.9" />
<text x="405.5" y="298.2" font-family='"Liberation Sans", sans-serif' font-size="9.5" font-weight="normal" text-anchor="start" fill="#111" >ShSIRT1-3+IM 0.25μM</text>
<text x="8.4" y="323.4" font-family='"Liberation Sans", sans-serif' font-size="15.8" font-weight="bold" text-anchor="start" fill="#000" transform="translate(8.4,0) scale(0.88,1) translate(-8.4,0)">E</text>
<rect x="41.2" y="344.5" width="125.49999999999999" height="64.0" fill="#c4c4c4" stroke="none" stroke-width="1" />
<line x1="41.2" y1="392.5" x2="166.7" y2="392.5" stroke="#8a8a8a" stroke-width="1.35" />
<line x1="41.2" y1="376.5" x2="166.7" y2="376.5" stroke="#8a8a8a" stroke-width="1.35" />
<line x1="41.2" y1="360.5" x2="166.7" y2="360.5" stroke="#8a8a8a" stroke-width="1.35" />
<line x1="41.2" y1="344.5" x2="166.7" y2="344.5" stroke="#8a8a8a" stroke-width="1" />
<line x1="166.7" y1="344.5" x2="166.7" y2="408.5" stroke="#9a9a9a" stroke-width="1" />
<rect x="55.2" y="356.5" width="17.4" height="52.0" fill="#fff" stroke="#000" stroke-width="0.9" />
<rect x="72.6" y="401.56666666666666" width="18" height="6.933333333333334" fill="#000" stroke="#000" stroke-width="0.9" />
<rect x="117.2" y="383.9666666666667" width="17.8" height="24.53333333333333" fill="#fff" stroke="#000" stroke-width="0.9" />
<rect x="135" y="400.5" width="17.4" height="8.0" fill="#000" stroke="#000" stroke-width="0.9" />
<line x1="63.9" y1="356.5" x2="63.9" y2="350.3" stroke="#000" stroke-width="0.9" />
<line x1="61.5" y1="350.3" x2="66.3" y2="350.3" stroke="#000" stroke-width="1" />
<line x1="81.6" y1="401.56666666666666" x2="81.6" y2="399.5" stroke="#000" stroke-width="0.9" />
<line x1="79.19999999999999" y1="399.5" x2="84.0" y2="399.5" stroke="#000" stroke-width="1" />
<line x1="126.1" y1="383.9666666666667" x2="126.1" y2="381.5" stroke="#000" stroke-width="0.9" />
<line x1="123.69999999999999" y1="381.5" x2="128.5" y2="381.5" stroke="#000" stroke-width="1" />
<line x1="143.7" y1="400.5" x2="143.7" y2="398.2" stroke="#000" stroke-width="0.9" />
<line x1="141.29999999999998" y1="398.2" x2="146.1" y2="398.2" stroke="#000" stroke-width="1" />
<line x1="41.2" y1="344.5" x2="41.2" y2="409.0" stroke="#222" stroke-width="0.9" />
<line x1="41.2" y1="408.5" x2="166.7" y2="408.5" stroke="#222" stroke-width="0.9" />
<line x1="41.2" y1="408.5" x2="41.2" y2="411.5" stroke="#333" stroke-width="0.8" />
<line x1="104" y1="408.5" x2="104" y2="411.5" stroke="#333" stroke-width="0.8" />
<line x1="166.7" y1="408.5" x2="166.7" y2="411.5" stroke="#333" stroke-width="0.8" />
<line x1="38.2" y1="408.5" x2="41.2" y2="408.5" stroke="#333" stroke-width="0.8" />
<text x="35.4" y="411.56" font-family='"Liberation Sans", sans-serif' font-size="8.5" font-weight="normal" text-anchor="end" fill="#111" >0</text>
<line x1="38.2" y1="392.5" x2="41.2" y2="392.5" stroke="#333" stroke-width="0.8" />
<text x="35.4" y="395.56" font-family='"Liberation Sans", sans-serif' font-size="8.5" font-weight="normal" text-anchor="end" fill="#111" >30</text>
<line x1="38.2" y1="376.5" x2="41.2" y2="376.5" stroke="#333" stroke-width="0.8" />
<text x="35.4" y="379.56" font-family='"Liberation Sans", sans-serif' font-size="8.5" font-weight="normal" text-anchor="end" fill="#111" >60</text>
<line x1="38.2" y1="360.5" x2="41.2" y2="360.5" stroke="#333" stroke-width="0.8" />
<text x="35.4" y="363.56" font-family='"Liberation Sans", sans-serif' font-size="8.5" font-weight="normal" text-anchor="end" fill="#111" >90</text>
<line x1="38.2" y1="344.5" x2="41.2" y2="344.5" stroke="#333" stroke-width="0.8" />
<text x="35.4" y="347.56" font-family='"Liberation Sans", sans-serif' font-size="8.5" font-weight="normal" text-anchor="end" fill="#111" >120</text>
<text x="72.2" y="425" font-family='"Liberation Sans", sans-serif' font-size="8.8" font-weight="normal" text-anchor="middle" fill="#111" >KCL-22</text>
<text x="135.3" y="424.8" font-family='"Liberation Sans", sans-serif' font-size="9.2" font-weight="normal" text-anchor="middle" fill="#111" >K562</text>
<text transform="translate(17.2,377) rotate(-90)" font-family='"Liberation Sans", sans-serif' font-size="10.8" font-weight="normal" text-anchor="middle" fill="#000">Colonies/plate</text>
<rect x="61.2" y="435.4" width="4.8" height="4.6" fill="#fff" stroke="#000" stroke-width="1.1" />
<text x="68.2" y="440.8" font-family='"Liberation Sans", sans-serif' font-size="8.8" font-weight="normal" text-anchor="start" fill="#111" >SCR</text>
<rect x="89.2" y="435.3" width="5.4" height="5.0" fill="#000" stroke="none" stroke-width="1" />
<text x="97.8" y="440.8" font-family='"Liberation Sans", sans-serif' font-size="8.5" font-weight="normal" text-anchor="start" fill="#111" >ShSIRT1-3</text>
<text x="193.6" y="324.6" font-family='"Liberation Sans", sans-serif' font-size="16" font-weight="bold" text-anchor="start" fill="#000" transform="translate(193.6,0) scale(0.8,1) translate(-193.6,0)">F</text>
<line x1="219.5" y1="417.0" x2="222.5" y2="417.0" stroke="#000" stroke-width="1.2" />
<text x="219.3" y="420.2" font-family='"Liberation Sans", sans-serif' font-size="8.9" font-weight="bold" text-anchor="end" fill="#000" >0</text>
<line x1="219.5" y1="401.54" x2="222.5" y2="401.54" stroke="#000" stroke-width="1.2" />
<text x="219.3" y="404.74" font-family='"Liberation Sans", sans-serif' font-size="8.9" font-weight="bold" text-anchor="end" fill="#000" >20</text>
<line x1="219.5" y1="386.08" x2="222.5" y2="386.08" stroke="#000" stroke-width="1.2" />
<text x="219.3" y="389.28" font-family='"Liberation Sans", sans-serif' font-size="8.9" font-weight="bold" text-anchor="end" fill="#000" >40</text>
<line x1="219.5" y1="370.62" x2="222.5" y2="370.62" stroke="#000" stroke-width="1.2" />
<text x="219.3" y="373.82" font-family='"Liberation Sans", sans-serif' font-size="8.9" font-weight="bold" text-anchor="end" fill="#000" >60</text>
<line x1="219.5" y1="355.15999999999997" x2="222.5" y2="355.15999999999997" stroke="#000" stroke-width="1.2" />
<text x="219.3" y="358.35999999999996" font-family='"Liberation Sans", sans-serif' font-size="8.9" font-weight="bold" text-anchor="end" fill="#000" >80</text>
<line x1="219.5" y1="339.7" x2="222.5" y2="339.7" stroke="#000" stroke-width="1.2" />
<text x="219.3" y="342.9" font-family='"Liberation Sans", sans-serif' font-size="8.9" font-weight="bold" text-anchor="end" fill="#000" >100</text>
<line x1="222.5" y1="417" x2="222.5" y2="420" stroke="#000" stroke-width="1.2" />
<text x="222.5" y="429.3" font-family='"Liberation Sans", sans-serif' font-size="9.5" font-weight="bold" text-anchor="middle" fill="#000" >0</text>
<line x1="251.54" y1="417" x2="251.54" y2="420" stroke="#000" stroke-width="1.2" />
<text x="251.54" y="429.3" font-family='"Liberation Sans", sans-serif' font-size="9.5" font-weight="bold" text-anchor="middle" fill="#000" >20</text>
<line x1="280.58" y1="417" x2="280.58" y2="420" stroke="#000" stroke-width="1.2" />
<text x="280.58" y="429.3" font-family='"Liberation Sans", sans-serif' font-size="9.5" font-weight="bold" text-anchor="middle" fill="#000" >40</text>
<line x1="309.62" y1="417" x2="309.62" y2="420" stroke="#000" stroke-width="1.2" />
<text x="309.62" y="429.3" font-family='"Liberation Sans", sans-serif' font-size="9.5" font-weight="bold" text-anchor="middle" fill="#000" >60</text>
<line x1="338.65999999999997" y1="417" x2="338.65999999999997" y2="420" stroke="#000" stroke-width="1.2" />
<text x="338.65999999999997" y="429.3" font-family='"Liberation Sans", sans-serif' font-size="9.5" font-weight="bold" text-anchor="middle" fill="#000" >80</text>
<line x1="222.5" y1="338.9" x2="222.5" y2="417.8" stroke="#000" stroke-width="1.7" />
<line x1="221.7" y1="417" x2="339.46" y2="417" stroke="#000" stroke-width="1.7" />
<path d="M222.5,339.7 H248.5 V373.5 H257.3 V402.6 H264.3 V412.3 H270.3 V417" stroke="#000" stroke-width="1.6" fill="none" stroke-linejoin="miter"/>
<path d="M248.5,339.7 H310.6 V344.6 H315 V354.3 H326.8 V373.5 H338.5" stroke="#000" stroke-width="1.6" fill="none" />
<circle cx="248.5" cy="373.5" r="1.7" fill="#000"/>
<circle cx="257.3" cy="402.6" r="1.7" fill="#000"/>
<circle cx="264.3" cy="412.3" r="1.7" fill="#000"/>
<circle cx="270.3" cy="417" r="1.7" fill="#000"/>
<rect x="308.90000000000003" y="342.90000000000003" width="3.4" height="3.4" fill="#000" stroke="none" stroke-width="1" />
<rect x="313.3" y="352.6" width="3.4" height="3.4" fill="#000" stroke="none" stroke-width="1" />
<rect x="325.1" y="371.8" width="3.4" height="3.4" fill="#000" stroke="none" stroke-width="1" />
<rect x="336.8" y="371.8" width="3.4" height="3.4" fill="#000" stroke="none" stroke-width="1" />
<text x="277.2" y="332.1" font-family='"Liberation Sans", sans-serif' font-size="10.9" font-weight="normal" text-anchor="middle" fill="#000" >KCL-22</text>
<text x="280" y="442.6" font-family='"Liberation Sans", sans-serif' font-size="9.6" font-weight="bold" text-anchor="middle" fill="#000" >days</text>
<text transform="translate(199.5,375.1) rotate(-90)" font-family='"Liberation Sans", sans-serif' font-size="9.8" font-weight="bold" text-anchor="middle" fill="#000">Percent survival</text>
<text x="230.5" y="397.2" font-family='"Liberation Sans", sans-serif' font-size="10.7" font-weight="normal" text-anchor="start" fill="#000" >N=16</text>
<text x="292" y="373.8" font-family='"Liberation Sans", sans-serif' font-size="10.7" font-weight="normal" text-anchor="start" fill="#000" >N=16</text>
<text x="294.2" y="408.8" font-family='"Liberation Sans", sans-serif' font-size="10.7" font-weight="normal" text-anchor="start" fill="#000" >P&lt; 0.0001</text>
<line x1="224.8" y1="452" x2="232.3" y2="452" stroke="#000" stroke-width="1.2" />
<circle cx="228.5" cy="452" r="1.5" fill="#000"/>
<text x="237" y="455.4" font-family='"Liberation Sans", sans-serif' font-size="9.5" font-weight="normal" text-anchor="start" fill="#000" >SCR</text>
<line x1="266.5" y1="452" x2="276.0" y2="452" stroke="#000" stroke-width="1.2" />
<circle cx="271.5" cy="452" r="1.6" fill="#000"/>
<text x="279.5" y="455.4" font-family='"Liberation Sans", sans-serif' font-size="9.5" font-weight="normal" text-anchor="start" fill="#000" >ShSIRT1-3</text>
<line x1="384.3" y1="419.0" x2="387.3" y2="419.0" stroke="#000" stroke-width="1.2" />
<text x="384.4" y="422.2" font-family='"Liberation Sans", sans-serif' font-size="8.9" font-weight="bold" text-anchor="end" fill="#000" >0</text>
<line x1="384.3" y1="403.6" x2="387.3" y2="403.6" stroke="#000" stroke-width="1.2" />
<text x="384.4" y="406.8" font-family='"Liberation Sans", sans-serif' font-size="8.9" font-weight="bold" text-anchor="end" fill="#000" >20</text>
<line x1="384.3" y1="388.2" x2="387.3" y2="388.2" stroke="#000" stroke-width="1.2" />
<text x="384.4" y="391.4" font-family='"Liberation Sans", sans-serif' font-size="8.9" font-weight="bold" text-anchor="end" fill="#000" >40</text>
<line x1="384.3" y1="372.8" x2="387.3" y2="372.8" stroke="#000" stroke-width="1.2" />
<text x="384.4" y="376.0" font-family='"Liberation Sans", sans-serif' font-size="8.9" font-weight="bold" text-anchor="end" fill="#000" >60</text>
<line x1="384.3" y1="357.4" x2="387.3" y2="357.4" stroke="#000" stroke-width="1.2" />
<text x="384.4" y="360.59999999999997" font-family='"Liberation Sans", sans-serif' font-size="8.9" font-weight="bold" text-anchor="end" fill="#000" >80</text>
<line x1="384.3" y1="342.0" x2="387.3" y2="342.0" stroke="#000" stroke-width="1.2" />
<text x="384.4" y="345.2" font-family='"Liberation Sans", sans-serif' font-size="8.9" font-weight="bold" text-anchor="end" fill="#000" >100</text>
<line x1="387.3" y1="419" x2="387.3" y2="422" stroke="#000" stroke-width="1.2" />
<text x="387.3" y="431.3" font-family='"Liberation Sans", sans-serif' font-size="9.5" font-weight="bold" text-anchor="middle" fill="#000" >0</text>
<line x1="410.52" y1="419" x2="410.52" y2="422" stroke="#000" stroke-width="1.2" />
<text x="410.52" y="431.3" font-family='"Liberation Sans", sans-serif' font-size="9.5" font-weight="bold" text-anchor="middle" fill="#000" >20</text>
<line x1="433.74" y1="419" x2="433.74" y2="422" stroke="#000" stroke-width="1.2" />
<text x="433.74" y="431.3" font-family='"Liberation Sans", sans-serif' font-size="9.5" font-weight="bold" text-anchor="middle" fill="#000" >40</text>
<line x1="456.96000000000004" y1="419" x2="456.96000000000004" y2="422" stroke="#000" stroke-width="1.2" />
<text x="456.96000000000004" y="431.3" font-family='"Liberation Sans", sans-serif' font-size="9.5" font-weight="bold" text-anchor="middle" fill="#000" >60</text>
<line x1="480.18" y1="419" x2="480.18" y2="422" stroke="#000" stroke-width="1.2" />
<text x="480.18" y="431.3" font-family='"Liberation Sans", sans-serif' font-size="9.5" font-weight="bold" text-anchor="middle" fill="#000" >80</text>
<line x1="503.40000000000003" y1="419" x2="503.40000000000003" y2="422" stroke="#000" stroke-width="1.2" />
<text x="503.40000000000003" y="431.3" font-family='"Liberation Sans", sans-serif' font-size="9.5" font-weight="bold" text-anchor="middle" fill="#000" >100</text>
<line x1="387.3" y1="341.2" x2="387.3" y2="419.8" stroke="#000" stroke-width="1.7" />
<line x1="386.5" y1="419" x2="504.20000000000005" y2="419" stroke="#000" stroke-width="1.7" />
<path d="M387.3,342 H411.8 V346.9 H417.8 V375.8 H426.5 V390.4 H432.6 V409.5 H439.7 V414.1 H452.3 V419" stroke="#000" stroke-width="1.6" fill="none" stroke-linejoin="miter"/>
<path d="M411.8,342 H447.7 V350.8 H458 V355.1 H491.8" stroke="#000" stroke-width="1.6" fill="none" />
<circle cx="411.8" cy="346.9" r="1.7" fill="#000"/>
<circle cx="417.8" cy="361.4" r="1.7" fill="#000"/>
<circle cx="418.3" cy="375.8" r="1.7" fill="#000"/>
<circle cx="426.5" cy="390.4" r="1.7" fill="#000"/>
<circle cx="432.6" cy="409.5" r="1.7" fill="#000"/>
<circle cx="439.7" cy="414.1" r="1.7" fill="#000"/>
<circle cx="452.3" cy="419" r="1.7" fill="#000"/>
<rect x="446.0" y="349.1" width="3.4" height="3.4" fill="#000" stroke="none" stroke-width="1" />
<rect x="456.3" y="353.40000000000003" width="3.4" height="3.4" fill="#000" stroke="none" stroke-width="1" />
<rect x="490.1" y="353.40000000000003" width="3.4" height="3.4" fill="#000" stroke="none" stroke-width="1" />
<text x="435.6" y="333.8" font-family='"Liberation Sans", sans-serif' font-size="11" font-weight="normal" text-anchor="middle" fill="#000" >K562</text>
<text x="445.3" y="445" font-family='"Liberation Sans", sans-serif' font-size="9.6" font-weight="bold" text-anchor="middle" fill="#000" >Days</text>
<text transform="translate(364.6,377.5) rotate(-90)" font-family='"Liberation Sans", sans-serif' font-size="9.8" font-weight="bold" text-anchor="middle" fill="#000">Percent survival</text>
<text x="398.4" y="402.5" font-family='"Liberation Sans", sans-serif' font-size="10.7" font-weight="normal" text-anchor="start" fill="#000" >N=16</text>
<text x="458.3" y="369.8" font-family='"Liberation Sans", sans-serif' font-size="10.7" font-weight="normal" text-anchor="start" fill="#000" >N=18</text>
<text x="458.3" y="401" font-family='"Liberation Sans", sans-serif' font-size="10.7" font-weight="normal" text-anchor="start" fill="#000" >P&lt; 0.0001</text>
<line x1="393" y1="454" x2="400.5" y2="454" stroke="#000" stroke-width="1.2" />
<circle cx="396.7" cy="454" r="1.5" fill="#000"/>
<text x="404.2" y="457.4" font-family='"Liberation Sans", sans-serif' font-size="9.5" font-weight="normal" text-anchor="start" fill="#000" >SCR</text>
<line x1="436.2" y1="454" x2="445.7" y2="454" stroke="#000" stroke-width="1.2" />
<circle cx="441.2" cy="454" r="1.6" fill="#000"/>
<text x="447.5" y="457.4" font-family='"Liberation Sans", sans-serif' font-size="9.5" font-weight="normal" text-anchor="start" fill="#000" >ShSIRT1-3</text>
<text x="8.9" y="487.2" font-family='"Liberation Sans", sans-serif' font-size="15.8" font-weight="bold" text-anchor="start" fill="#000" transform="translate(8.9,0) scale(0.93,1) translate(-8.9,0)">G</text>
<text x="30.3" y="506.6" font-family='"Liberation Sans", sans-serif' font-size="10.8" font-weight="normal" text-anchor="start" fill="#000" >IP:Ku70</text>
<rect x="25.4" y="510.8" width="46.6" height="2" fill="#000" stroke="none" stroke-width="1" />
<text x="87.8" y="506.6" font-family='"Liberation Sans", sans-serif' font-size="10.8" font-weight="normal" text-anchor="start" fill="#000" >IP:FLAG</text>
<rect x="83.8" y="510.8" width="46.2" height="2" fill="#000" stroke="none" stroke-width="1" />
<text transform="translate(34.8,552.6) rotate(-47)" font-family='"Liberation Sans", sans-serif' font-size="11" font-weight="normal" text-anchor="start" fill="#000">SCR</text>
<text transform="translate(61,553.5) rotate(-48)" font-family='"Liberation Sans", sans-serif' font-size="11" font-weight="normal" text-anchor="start" fill="#000">shSIRT1</text>
<text transform="translate(86.2,550.6) rotate(-47)" font-family='"Liberation Sans", sans-serif' font-size="11" font-weight="normal" text-anchor="start" fill="#000">SCR</text>
<text transform="translate(111.2,551.3) rotate(-48)" font-family='"Liberation Sans", sans-serif' font-size="11" font-weight="normal" text-anchor="start" fill="#000">shSIRT1</text>
<rect x="15.3" y="553.2" width="107.5" height="15.1" fill="url(#gG1)" stroke="none" stroke-width="1" />
<ellipse cx="95" cy="560.8" rx="12" ry="5" fill="#c6c6c6" filter="url(#b2)"/>
<ellipse cx="113" cy="560.5" rx="8" ry="5" fill="#c8c8c8" filter="url(#b2)"/>
<ellipse cx="38" cy="560.5" rx="10" ry="4" fill="#dadada" filter="url(#b2)"/>
<ellipse cx="61" cy="561.8" rx="11.5" ry="5" fill="#888" filter="url(#b2)"/>
<ellipse cx="60.5" cy="561.5" rx="9" ry="3.4" fill="#2a2a2a" filter="url(#b1)"/>
<ellipse cx="58.5" cy="560.6" rx="5.5" ry="2.4" fill="#151515" filter="url(#b1)"/>
<rect x="15.3" y="575.3" width="108.4" height="17.8" fill="#e4e4e4" stroke="none" stroke-width="1" />
<ellipse cx="35.5" cy="586.2" rx="14.6" ry="5.4" fill="#030303" filter="url(#b0)"/>
<ellipse cx="63.5" cy="586.9" rx="13.6" ry="3.9" fill="#080808" filter="url(#b0)"/>
<rect x="40" y="583.5" width="24" height="6.5" fill="#060606" stroke="none" stroke-width="1" filter="url(#b0)"/>
<ellipse cx="122.6" cy="587" rx="1.3" ry="4.2" fill="#1a1a1a" filter="url(#b0)"/>
<text x="125" y="564.9" font-family='"Liberation Sans", sans-serif' font-size="11" font-weight="normal" text-anchor="start" fill="#000" >Ac-Ku70</text>
<text x="127.2" y="589.5" font-family='"Liberation Sans", sans-serif' font-size="11" font-weight="normal" text-anchor="start" fill="#000" >Ku70</text>
<text x="174.3" y="490.5" font-family='"Liberation Sans", sans-serif' font-size="16" font-weight="bold" text-anchor="start" fill="#000" transform="translate(174.3,0) scale(0.84,1) translate(-174.3,0)">H</text>
<text transform="translate(191,542.5) rotate(-49)" font-family='"Liberation Sans", sans-serif' font-size="11" font-weight="normal" text-anchor="start" fill="#000">SCR</text>
<text transform="translate(211.2,544.3) rotate(-50)" font-family='"Liberation Sans", sans-serif' font-size="11" font-weight="normal" text-anchor="start" fill="#000">ShKu70-1</text>
<text transform="translate(232.9,542.5) rotate(-50)" font-family='"Liberation Sans", sans-serif' font-size="11" font-weight="normal" text-anchor="start" fill="#000">ShKu70-2</text>
<rect x="181.8" y="550.3" width="62" height="21" fill="#d4d4d4" stroke="none" stroke-width="1" />
<rect x="181.8" y="557.4" width="19.5" height="8.4" fill="#0c0c0c" stroke="none" stroke-width="1" rx="1.5" filter="url(#b0)"/>
<ellipse cx="199.5" cy="561.6" rx="4" ry="4.1" fill="#0c0c0c" filter="url(#b0)"/>
<ellipse cx="213.5" cy="563.2" rx="7.5" ry="1.1" fill="#8c8c8c" filter="url(#b0)"/>
<ellipse cx="234" cy="563.2" rx="7" ry="1.1" fill="#909090" filter="url(#b0)"/>
<rect x="181.8" y="574.6" width="62" height="22" fill="#c4c4c4" stroke="none" stroke-width="1" />
<rect x="181.8" y="581.3" width="62" height="9.2" fill="#2a2a2a" stroke="none" stroke-width="1" filter="url(#b1)"/>
<ellipse cx="192.3" cy="585.8" rx="10.5" ry="5.3" fill="#0a0a0a" filter="url(#b1)"/>
<ellipse cx="212.8" cy="586.3" rx="10.2" ry="5.3" fill="#0a0a0a" filter="url(#b1)"/>
<ellipse cx="233.2" cy="585.8" rx="10.3" ry="5.1" fill="#0a0a0a" filter="url(#b1)"/>
<text x="247.5" y="566.8" font-family='"Liberation Sans", sans-serif' font-size="11" font-weight="normal" text-anchor="start" fill="#000" >Ku70</text>
<text x="247.5" y="588.2" font-family='"Liberation Sans", sans-serif' font-size="11" font-weight="normal" text-anchor="start" fill="#000" >GAPDH</text>
<text x="304.2" y="481.8" font-family='"Liberation Sans", sans-serif' font-size="15" font-weight="bold" text-anchor="start" fill="#000" transform="translate(304.2,0) scale(0.95,1) translate(-304.2,0)">I</text>
<rect x="340.9" y="508.8" width="147.40000000000003" height="58.99999999999994" fill="#c2c2c2" stroke="none" stroke-width="1" />
<line x1="340.9" y1="556.0" x2="488.3" y2="556.0" stroke="#8a8a8a" stroke-width="1.35" />
<line x1="340.9" y1="544.1999999999999" x2="488.3" y2="544.1999999999999" stroke="#8a8a8a" stroke-width="1.35" />
<line x1="340.9" y1="532.4" x2="488.3" y2="532.4" stroke="#8a8a8a" stroke-width="1.35" />
<line x1="340.9" y1="520.6" x2="488.3" y2="520.6" stroke="#8a8a8a" stroke-width="1.35" />
<line x1="340.9" y1="508.8" x2="488.3" y2="508.8" stroke="#8a8a8a" stroke-width="1" />
<line x1="488.3" y1="508.8" x2="488.3" y2="567.8" stroke="#9a9a9a" stroke-width="1" />
<rect x="351.2" y="563.0799999999999" width="13.3" height="4.719999999999995" fill="#9999ff" stroke="#000" stroke-width="0.9" />
<rect x="364.5" y="558.36" width="13.3" height="9.43999999999999" fill="#993366" stroke="#000" stroke-width="0.9" />
<rect x="377.8" y="556.5899999999999" width="13.3" height="11.209999999999988" fill="#ffffcc" stroke="#000" stroke-width="0.9" />
<rect x="391.1" y="550.1" width="13.3" height="17.69999999999998" fill="#ccffff" stroke="#000" stroke-width="0.9" />
<rect x="425.6" y="558.9499999999999" width="13.25" height="8.84999999999999" fill="#9999ff" stroke="#000" stroke-width="0.9" />
<rect x="438.85" y="546.56" width="13.25" height="21.23999999999998" fill="#993366" stroke="#000" stroke-width="0.9" />
<rect x="452.1" y="525.3199999999999" width="13.25" height="42.47999999999996" fill="#ffffcc" stroke="#000" stroke-width="0.9" />
<rect x="465.35" y="518.83" width="13.25" height="48.96999999999995" fill="#ccffff" stroke="#000" stroke-width="0.9" />
<line x1="371.15" y1="558.36" x2="371.15" y2="557.77" stroke="#000" stroke-width="0.9" />
<line x1="368.75" y1="557.77" x2="373.54999999999995" y2="557.77" stroke="#000" stroke-width="1" />
<line x1="397.75" y1="550.1" x2="397.75" y2="549.51" stroke="#000" stroke-width="0.9" />
<line x1="395.35" y1="549.51" x2="400.15" y2="549.51" stroke="#000" stroke-width="1" />
<line x1="445.475" y1="546.56" x2="445.475" y2="545.97" stroke="#000" stroke-width="0.9" />
<line x1="443.07500000000005" y1="545.97" x2="447.875" y2="545.97" stroke="#000" stroke-width="1" />
<line x1="458.725" y1="525.3199999999999" x2="458.725" y2="522.96" stroke="#000" stroke-width="0.9" />
<line x1="456.32500000000005" y1="522.96" x2="461.125" y2="522.96" stroke="#000" stroke-width="1" />
<line x1="471.975" y1="518.83" x2="471.975" y2="517.65" stroke="#000" stroke-width="0.9" />
<line x1="469.57500000000005" y1="517.65" x2="474.375" y2="517.65" stroke="#000" stroke-width="1" />
<line x1="340.9" y1="508.8" x2="340.9" y2="568.3" stroke="#222" stroke-width="0.9" />
<line x1="340.9" y1="567.8" x2="488.3" y2="567.8" stroke="#222" stroke-width="0.9" />
<line x1="340.9" y1="567.8" x2="340.9" y2="570.8" stroke="#333" stroke-width="0.8" />
<line x1="414.6" y1="567.8" x2="414.6" y2="570.8" stroke="#333" stroke-width="0.8" />
<line x1="488.3" y1="567.8" x2="488.3" y2="570.8" stroke="#333" stroke-width="0.8" />
<line x1="337.9" y1="567.8" x2="340.9" y2="567.8" stroke="#333" stroke-width="0.8" />
<text x="334.2" y="571.04" font-family='"Liberation Sans", sans-serif' font-size="9" font-weight="normal" text-anchor="end" fill="#111" >0</text>
<line x1="337.9" y1="556.0" x2="340.9" y2="556.0" stroke="#333" stroke-width="0.8" />
<text x="334.2" y="559.24" font-family='"Liberation Sans", sans-serif' font-size="9" font-weight="normal" text-anchor="end" fill="#111" >20</text>
<line x1="337.9" y1="544.1999999999999" x2="340.9" y2="544.1999999999999" stroke="#333" stroke-width="0.8" />
<text x="334.2" y="547.4399999999999" font-family='"Liberation Sans", sans-serif' font-size="9" font-weight="normal" text-anchor="end" fill="#111" >40</text>
<line x1="337.9" y1="532.4" x2="340.9" y2="532.4" stroke="#333" stroke-width="0.8" />
<text x="334.2" y="535.64" font-family='"Liberation Sans", sans-serif' font-size="9" font-weight="normal" text-anchor="end" fill="#111" >60</text>
<line x1="337.9" y1="520.6" x2="340.9" y2="520.6" stroke="#333" stroke-width="0.8" />
<text x="334.2" y="523.84" font-family='"Liberation Sans", sans-serif' font-size="9" font-weight="normal" text-anchor="end" fill="#111" >80</text>
<line x1="337.9" y1="508.8" x2="340.9" y2="508.8" stroke="#333" stroke-width="0.8" />
<text x="334.2" y="512.04" font-family='"Liberation Sans", sans-serif' font-size="9" font-weight="normal" text-anchor="end" fill="#111" >100</text>
<text x="358" y="555.2" font-family='"Liberation Sans", sans-serif' font-size="9.8" font-weight="normal" text-anchor="middle" fill="#111" >8</text>
<text x="371.5" y="550.8" font-family='"Liberation Sans", sans-serif' font-size="9.8" font-weight="normal" text-anchor="middle" fill="#111" >16</text>
<text x="385.9" y="549" font-family='"Liberation Sans", sans-serif' font-size="9.8" font-weight="normal" text-anchor="middle" fill="#111" >19</text>
<text x="398.7" y="542.6" font-family='"Liberation Sans", sans-serif' font-size="9.8" font-weight="normal" text-anchor="middle" fill="#111" >30</text>
<text x="432.5" y="552.1" font-family='"Liberation Sans", sans-serif' font-size="9.8" font-weight="normal" text-anchor="middle" fill="#111" >15</text>
<text x="445.4" y="540.3" font-family='"Liberation Sans", sans-serif' font-size="9.8" font-weight="normal" text-anchor="middle" fill="#111" >36</text>
<text x="458.8" y="518.1" font-family='"Liberation Sans", sans-serif' font-size="9.8" font-weight="normal" text-anchor="middle" fill="#111" >72</text>
<text x="471.8" y="512.7" font-family='"Liberation Sans", sans-serif' font-size="9.8" font-weight="normal" text-anchor="middle" fill="#111" >83</text>
<path d="M358.5,546 V495 H402.1 V515.2" stroke="#000" stroke-width="1.2" fill="none" />
<path d="M358.5,515.6 H388.3 V530.6" stroke="#000" stroke-width="1.2" fill="none" />
<path d="M358.5,528 H373.8 V537.3" stroke="#000" stroke-width="1.2" fill="none" />
<path d="M426.7,536.3 V483.8 H470 V498.5" stroke="#000" stroke-width="1.2" fill="none" />
<path d="M426.7,493.5 H456.5 V501.7" stroke="#000" stroke-width="1.2" fill="none" />
<path d="M426.7,511.9 H442.5 V521.5" stroke="#000" stroke-width="1.2" fill="none" />
<text x="377.7" y="497.9" font-family='"Liberation Sans", sans-serif' font-size="13.5" font-weight="normal" text-anchor="middle" fill="#000" stroke="#000" stroke-width="0.15">*</text>
<text x="371" y="518.1999999999999" font-family='"Liberation Sans", sans-serif' font-size="13.5" font-weight="normal" text-anchor="middle" fill="#000" stroke="#000" stroke-width="0.15">*</text>
<text x="366.2" y="530.6999999999999" font-family='"Liberation Sans", sans-serif' font-size="13.5" font-weight="normal" text-anchor="middle" fill="#000" stroke="#000" stroke-width="0.15">*</text>
<text x="445.4" y="487.4" font-family='"Liberation Sans", sans-serif' font-size="13.5" font-weight="normal" text-anchor="middle" fill="#000" stroke="#000" stroke-width="0.15">*</text>
<text x="441.9" y="497.09999999999997" font-family='"Liberation Sans", sans-serif' font-size="13.5" font-weight="normal" text-anchor="middle" fill="#000" stroke="#000" stroke-width="0.15">*</text>
<text x="434.8" y="515.4" font-family='"Liberation Sans", sans-serif' font-size="13.5" font-weight="normal" text-anchor="middle" fill="#000" stroke="#000" stroke-width="0.15">*</text>
<text x="377.9" y="584.8" font-family='"Liberation Sans", sans-serif' font-size="9" font-weight="normal" text-anchor="middle" fill="#111" >day2</text>
<text x="451.8" y="584.8" font-family='"Liberation Sans", sans-serif' font-size="9" font-weight="normal" text-anchor="middle" fill="#111" >day5</text>
<text transform="translate(315.5,537) rotate(-90)" font-family='"Liberation Sans", sans-serif' font-size="13.2" font-weight="normal" text-anchor="middle" fill="#000">% annexin V<tspan font-size="7.5" dy="-5">+</tspan></text>
<rect x="320.8" y="590.3" width="5.2" height="5.3" fill="#9999ff" stroke="#222" stroke-width="0.9" />
<text x="329.8" y="596.3" font-family='"Liberation Sans", sans-serif' font-size="8.7" font-weight="normal" text-anchor="start" fill="#111" >SCR</text>
<rect x="320.8" y="604.7" width="5.2" height="5.3" fill="#ffffcc" stroke="#222" stroke-width="0.9" />
<text x="329.8" y="610.8" font-family='"Liberation Sans", sans-serif' font-size="8.6" font-weight="normal" text-anchor="start" fill="#111" letter-spacing="-0.2">SCR+IM 5μM</text>
<rect x="411.8" y="589.9" width="5.4" height="5.3" fill="#993366" stroke="#222" stroke-width="0.9" />
<text x="420.2" y="596.1" font-family='"Liberation Sans", sans-serif' font-size="8.7" font-weight="normal" text-anchor="start" fill="#111" >ShKU70-1</text>
<rect x="411.8" y="605.4" width="5.4" height="5.3" fill="#ccffff" stroke="#222" stroke-width="0.9" />
<text x="420.2" y="611.5" font-family='"Liberation Sans", sans-serif' font-size="8.6" font-weight="normal" text-anchor="start" fill="#111" letter-spacing="-0.2">ShKU70-1+IM 5μM</text>
</svg>
</body></html>
